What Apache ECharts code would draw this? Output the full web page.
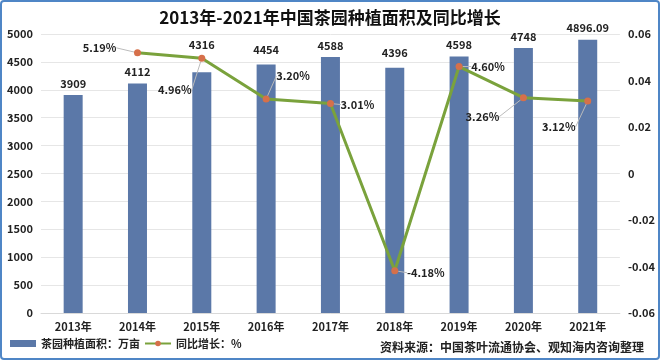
<!DOCTYPE html>
<html><head><meta charset="utf-8">
<script src="https://cdn.jsdelivr.net/npm/echarts@6/dist/echarts.min.js"></script>
<style>
html,body{margin:0;padding:0;background:#fff;}
#c{width:660px;height:360px;box-sizing:border-box;border:2px solid #4f86c6;border-radius:4px;}
</style></head>
<body><div id="c"></div>
<script>
var categories = ['2013年','2014年','2015年','2016年','2017年','2018年','2019年','2020年','2021年'];
var areaValues = [3909, 4112, 4316, 4454, 4588, 4396, 4598, 4748, 4896.09];
var growthValues = [null, 0.0519, 0.0496, 0.0320, 0.0301, -0.0418, 0.0460, 0.0326, 0.0312];
var leftTicks = [0, 500, 1000, 1500, 2000, 2500, 3000, 3500, 4000, 4500, 5000];
var rightTicks = [-0.06, -0.04, -0.02, 0, 0.02, 0.04, 0.06];

var FONT = '"Noto Sans CJK SC", "Noto Sans", sans-serif';
// label offsets for growth points [dx, dy]
var growthLabelOffsets = [null, [-38, -5], [-27, 32], [27, -23], [27, 1], [31, 2], [29, 0], [-41, 19], [-29, 26]];

var chart = echarts.init(document.getElementById('c'));
chart.setOption({
  animation: false,
  textStyle: {fontFamily: FONT},
  title: {
    text: '2013年-2021年中国茶园种植面积及同比增长',
    left: 'center', top: 2,
    textStyle: {fontSize: 17, fontWeight: 'bold', color: '#111', fontFamily: FONT}
  },
  legend: {
    left: 3, bottom: 4, itemGap: 4, itemWidth: 26, itemHeight: 7,
    textStyle: {fontSize: 11, fontWeight: 'bold', color: '#222'},
    data: [{name: '茶园种植面积：万亩', icon: 'rect'}, {name: '同比增长：%'}]
  },
  graphic: [{
    type: 'text', right: 14, bottom: 5,
    style: {text: '资料来源：中国茶叶流通协会、观知海内咨询整理', fill: '#222', font: 'bold 12px ' + FONT}
  }],
  grid: {left: 39, right: 37, top: 32, bottom: 45},
  xAxis: {
    type: 'category', data: categories,
    axisLine: {lineStyle: {color: '#d9d9d9'}},
    axisTick: {show: false},
    axisLabel: {fontSize: 11, fontWeight: 'bold', color: '#222', margin: 8}
  },
  yAxis: [{
    type: 'value', min: leftTicks[0], max: leftTicks[leftTicks.length-1], interval: 500,
    axisLine: {show: false}, axisTick: {show: false},
    splitLine: {lineStyle: {color: '#e6e6e6'}},
    axisLabel: {fontSize: 11, fontWeight: 'bold', color: '#222', margin: 8,
      formatter: function(v){ return String(v); }}
  }, {
    type: 'value', min: rightTicks[0], max: rightTicks[rightTicks.length-1], interval: 0.02,
    axisLine: {show: false}, axisTick: {show: false}, splitLine: {show: false},
    axisLabel: {fontSize: 11, fontWeight: 'bold', color: '#222', margin: 8,
      formatter: function(v){ return Math.abs(v) < 1e-9 ? '0' : String(Math.round(v*100)/100); }}
  }],
  series: [{
    name: '茶园种植面积：万亩', type: 'bar', barWidth: 19,
    data: areaValues,
    itemStyle: {color: '#5b78a8'},
    label: {show: true, position: 'top', distance: 6, fontSize: 11, fontWeight: 'bold', color: '#222'},
    labelLayout: function(p){ if (p.dataIndex === 2) return {dy: -16}; if (p.dataIndex === 5 || p.dataIndex===3) return {dy: -3}; return {}; }
  }, {
    name: '同比增长：%', type: 'line', yAxisIndex: 1,
    data: growthValues,
    symbol: 'circle', symbolSize: 7,
    itemStyle: {color: '#d6704a'},
    lineStyle: {color: '#7aa23c', width: 3},
    label: {show: true, position: 'inside', fontSize: 11, fontWeight: 'bold', color: '#222',
      formatter: function(p){ return (p.value*100).toFixed(2) + '%'; }},
    labelLine: {show: true, lineStyle: {color: '#bbb', width: 1}},
    labelLayout: function(p){
      var o = growthLabelOffsets[p.dataIndex];
      return o ? {dx: o[0], dy: o[1]} : {};
    }
  }]
});
</script></body></html>
